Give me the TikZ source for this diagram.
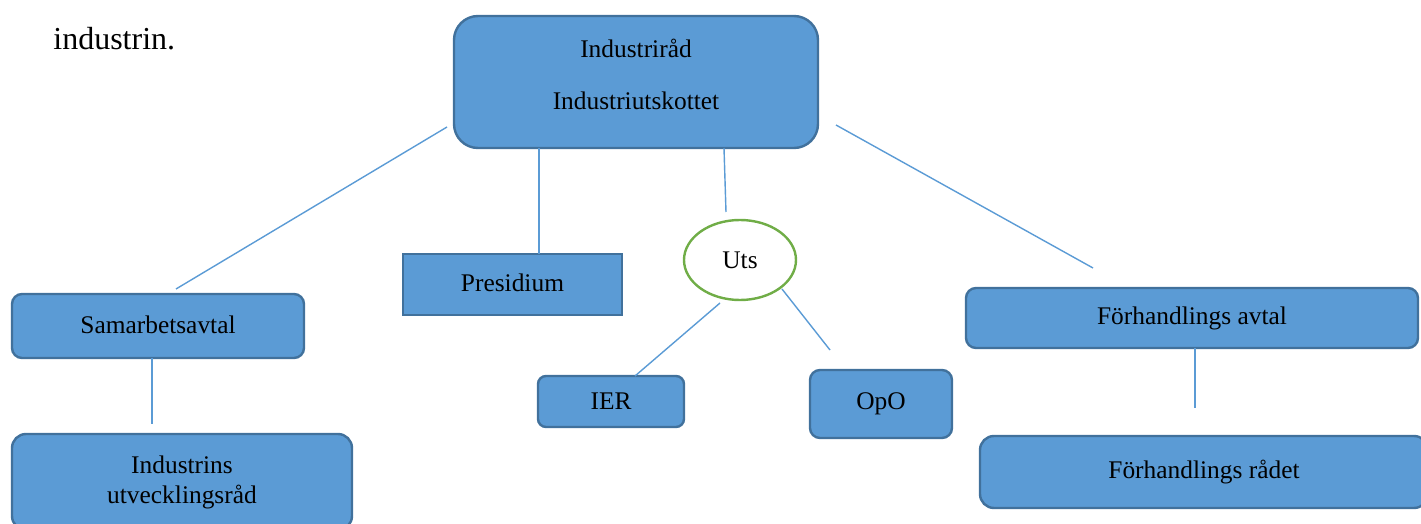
\documentclass[tikz,border=0pt]{standalone}
\usepackage{fontspec}
\setmainfont{Liberation Serif}
\usetikzlibrary{shapes.geometric}
\definecolor{boxfill}{HTML}{5B9BD5}
\definecolor{boxline}{HTML}{41719C}
\definecolor{connline}{HTML}{5B9BD5}
\definecolor{utsline}{HTML}{70AD47}
\tikzset{
  box/.style={draw=boxline, fill=boxfill, line width=1.2pt, inner sep=0pt, outer sep=0pt,
    font=\fontsize{12.7}{15}\selectfont, align=center},
  conn/.style={draw=connline, line width=0.7pt},
}
\begin{document}
\begin{tikzpicture}[x=0.5pt,y=-0.5pt]
\useasboundingbox (0,0) rectangle (1421,524);
\node[anchor=base west, inner sep=0pt, font=\fontsize{16}{19}\selectfont] (intro) at (53,50) {industrin.};

\node[box, rounded corners=12pt, minimum width=182pt, minimum height=66pt] (top) at (636,82) {};
\node[inner sep=0pt, align=center, font=\fontsize{12.7}{26}\selectfont] (toptext) at (636,74) {Industriråd\\Industriutskottet};

\node[box, minimum width=109.5pt, minimum height=30.5pt] (pres) at (512.5,284.5) {\raisebox{2pt}{Presidium}};
\node[draw=utsline, fill=white, ellipse, line width=1.2pt, inner sep=0pt, outer sep=0pt,
  minimum width=56pt, minimum height=40pt, font=\fontsize{12.7}{15}\selectfont] (uts) at (740,260) {Uts};
\node[box, rounded corners=5pt, minimum width=146pt, minimum height=32pt] (sam) at (158,326) {\raisebox{1.5pt}{Samarbetsavtal}};
\node[box, rounded corners=7pt, minimum width=170pt, minimum height=48pt] (iu) at (182,482) {Industrins\\utvecklingsråd};
\node[box, rounded corners=4pt, minimum width=73pt, minimum height=25.5pt] (ier) at (611,401.5) {\raisebox{-2pt}{IER}};
\node[box, rounded corners=5pt, minimum width=71pt, minimum height=34pt] (opo) at (881,404) {OpO};
\node[box, rounded corners=5pt, minimum width=226pt, minimum height=30pt] (fa) at (1192,318) {Förhandlings avtal};
\node[box, rounded corners=7pt, minimum width=224pt, minimum height=36pt] (fr) at (1204,472) {\raisebox{1.5pt}{Förhandlings rådet}};

\draw[conn] ([shift={(-7,-21)}]top.south west) -- ([shift={(164,-5)}]sam.north west);
\draw[conn] ([shift={(-97,0)}]top.south) -- ([shift={(26.5,0)}]pres.north);
\draw[conn] ([shift={(88,0)}]top.south) -- ([shift={(-14,-8)}]uts.north);
\draw[conn] ([shift={(18,-23)}]top.south east) -- ([shift={(127,-20)}]fa.north west);
\draw[conn] ([shift={(-20,3)}]uts.south) -- ([shift={(24,0)}]ier.north);
\draw[conn] ([shift={(-14,29)}]uts.east) -- ([shift={(-51,-20)}]opo.north);
\draw[conn] ([shift={(-6,0)}]sam.south) -- ([shift={(-30,-10)}]iu.north);
\draw[conn] ([shift={(3,0)}]fa.south) -- ([shift={(-9,-28)}]fr.north);
\end{tikzpicture}
\end{document}
